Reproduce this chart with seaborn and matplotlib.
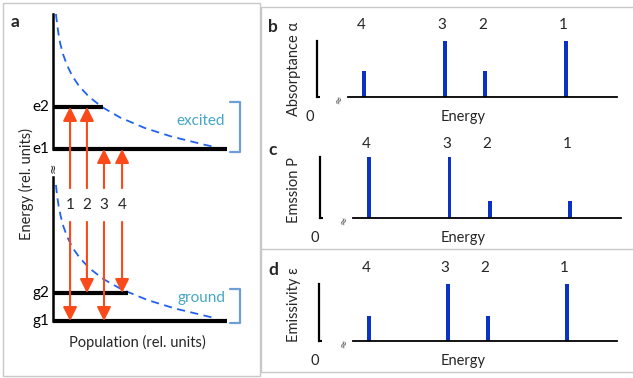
import numpy as np
import pandas as pd
import matplotlib
matplotlib.use("Agg")
import matplotlib.pyplot as plt
import matplotlib.transforms as mtransforms
import seaborn as sns

# ---------------- data ----------------
level_names = ["e2", "e1", "g2", "g1"]
level_energy = [11.0, 10.0, 0.667, 0.0]        # energy (rel. units)
level_population = [0.29, 1.0, 0.43, 1.0]     # population (rel. units)

transition_labels = ["1", "2", "3", "4"]
transition_upper = ["e2", "e2", "e1", "e1"]
transition_lower = ["g1", "g2", "g1", "g2"]

absorptance = [1.0, 0.46, 1.0, 0.46]
emission = [0.28, 0.28, 1.0, 1.0]
emissivity = [1.0, 0.44, 1.0, 0.44]

# Boltzmann-like population curves
excited_curve_energy = [13.21, 13.0, 12.75, 12.5, 12.25, 12.0, 11.75, 11.5, 11.25, 11.0,
                        10.75, 10.5, 10.3, 10.1, 10.05]
excited_curve_pop = [0.017, 0.023, 0.031, 0.042, 0.058, 0.080, 0.109, 0.149, 0.205, 0.281,
                     0.385, 0.527, 0.678, 0.872, 0.929]
ground_curve_energy = [3.24, 3.0, 2.75, 2.5, 2.25, 2.0, 1.75, 1.5, 1.25, 1.0,
                       0.75, 0.5, 0.3, 0.1, 0.07]
ground_curve_pop = [0.017, 0.023, 0.032, 0.044, 0.060, 0.082, 0.112, 0.154, 0.211, 0.289,
                    0.396, 0.543, 0.699, 0.899, 0.933]

# ---------------- style ----------------
W, H, DPI = 633, 378, 100
sns.set_theme(style="white")
plt.rcParams['font.family'] = ['Lato', 'DejaVu Sans']
FS = 10.5
ARROW_C = '#fa4a1a'
CURVE_C = '#2262ee'
BAR_C = '#0a32c4'
BRACKET_C = '#6c9fd6'
TEAL = '#45a6c2'
GRID_C = '#c8c8c8'

fig = plt.figure(figsize=(W / DPI, H / DPI), dpi=DPI)


def rect(x0, y0, x1, y1):
    return [x0 / W, 1 - y1 / H, (x1 - x0) / W, (y1 - y0) / H]


bg = fig.add_axes([0, 0, 1, 1], zorder=0)
bg.set_xlim(0, W)
bg.set_ylim(H, 0)
bg.axis('off')

# panel frames
bg.plot([3, 260, 260, 3, 3], [3, 3, 376, 376, 3], color=GRID_C, lw=1.0)
bg.plot([261, 261], [7, 372], color=GRID_C, lw=1.0)
for yy in (7, 249, 372):
    bg.plot([261, 633], [yy, yy], color=GRID_C, lw=1.0)

E = dict(zip(level_names, level_energy))
P = dict(zip(level_names, level_population))


def clean(ax):
    ax.set_facecolor('none')
    for s in ax.spines.values():
        s.set_visible(False)
    ax.set_xticks([])
    ax.set_yticks([])
    ax.set_xlabel('')
    ax.set_ylabel('')


# ---------------- panel a ----------------
ax_up = fig.add_axes(rect(53, 14, 227, 149), zorder=2)
ax_lo = fig.add_axes(rect(53, 177, 227, 321), zorder=2)
sns.lineplot(x=excited_curve_pop, y=excited_curve_energy, ax=ax_up, sort=False,
             color=CURVE_C, lw=1.3, linestyle=(0, (4.5, 3)))
sns.lineplot(x=ground_curve_pop, y=ground_curve_energy, ax=ax_lo, sort=False,
             color=CURVE_C, lw=1.3, linestyle=(0, (4.5, 3)))
ax_up.set_xlim(0, 1)
ax_up.set_ylim(10, 13.21)
ax_lo.set_xlim(0, 1)
ax_lo.set_ylim(0, 3.43)
for ax in (ax_up, ax_lo):
    clean(ax)
    ax.spines['left'].set_visible(True)
    ax.spines['left'].set_linewidth(1.8)
    ax.spines['left'].set_color('black')

for name in level_names:
    ax = ax_up if name.startswith('e') else ax_lo
    ax.hlines(E[name], 0, P[name], color='black', lw=3.0, capstyle='butt',
              clip_on=False, zorder=3)
    ax.annotate(name, xy=(0, E[name]), xycoords=('axes fraction', 'data'),
                xytext=(-2.5, 0), textcoords='offset points', ha='right', va='center',
                fontsize=FS + 0.5, color='black')

arrow_x = [0.098, 0.195, 0.293, 0.397]
arrow_props = dict(arrowstyle='-|>,head_width=0.35,head_length=0.7', color=ARROW_C,
                   lw=1.5, shrinkA=0, shrinkB=0)
for xa, lab, up, lo in zip(arrow_x, transition_labels, transition_upper, transition_lower):
    ax_up.annotate('', xy=(xa, E[up]), xytext=(xa, 9.07), arrowprops=arrow_props,
                   annotation_clip=False)
    ax_lo.annotate('', xy=(xa, E[lo]), xytext=(xa, 2.36), arrowprops=arrow_props,
                   annotation_clip=False)
    bg.text(53 + xa * 174, 205, lab, ha='center', va='center', fontsize=FS + 0.5)

bg.text(53, 168, '≈', rotation=90, ha='center', va='center', fontsize=9,
        family=['DejaVu Sans'])
bg.text(15, 22, 'a', fontweight='bold', fontsize=12.5, ha='center', va='center')
bg.text(26, 184, 'Energy (rel. units)', rotation=90, ha='center', va='center', fontsize=FS)
bg.text(137, 342, 'Population (rel. units)', ha='center', va='center', fontsize=FS)

for (y0, y1, txt, ty) in [(102, 152, 'excited', 121), (289, 323, 'ground', 298)]:
    bg.plot([230, 240, 240, 230], [y0, y0, y1, y1], color=BRACKET_C, lw=1.6)
    bg.text(201, ty, txt, color=TEAL, ha='center', va='center', fontsize=FS + 0.5)

# ---------------- spectra ----------------
spec_E = [E[u] - E[l] for u, l in zip(transition_upper, transition_lower)]

panels = [
    ('b', absorptance, 'Absorptance α', (348, 41, 617, 97), 31, 16, (273, 27), 69),
    ('c', emission, 'Emssion P', (353, 157, 621, 218), 33, 13, (273, 150), 190),
    ('d', emissivity, 'Emissivity ε', (353, 284, 617, 341), 34, 16, (273, 270), 305),
]
for letter, vals, ylab, box, off, lab_off, lpos, ylab_y in panels:
    x0, y0, x1, y1 = box
    ax = fig.add_axes(rect(*box), zorder=2)
    df = pd.DataFrame({'energy': spec_E, 'value': vals})
    sns.barplot(data=df, x='energy', y='value', native_scale=True, width=0.09,
                color=BAR_C, saturation=1, linewidth=0, errorbar=None, ax=ax)
    ax.set_xlim(9.2, 11.42)
    ax.set_ylim(0, 1.0)
    clean(ax)
    ax.spines['bottom'].set_visible(True)
    ax.spines['bottom'].set_linewidth(1.3)
    ax.spines['bottom'].set_color('black')
    ax.spines['left'].set_visible(True)
    ax.spines['left'].set_linewidth(1.6)
    ax.spines['left'].set_color('black')
    ax.spines['left'].set_position(('outward', off * 72 / DPI))
    ax.set_yticks([0])
    ax.tick_params(axis='y', direction='in', length=2.5, width=1.5, left=True,
                   labelleft=False, color='black')
    h = y1 - y0
    tr = mtransforms.offset_copy(ax.get_xaxis_transform(), fig=fig, x=-3, y=0, units='dots')
    for e, lab in zip(spec_E, transition_labels):
        ax.text(e, 1 + lab_off / h, lab, transform=tr, ha='center', va='center',
                fontsize=FS + 0.5)
    bg.text(lpos[0], lpos[1], letter, fontweight='bold', fontsize=12.5, ha='center',
            va='center')
    bg.text(294, ylab_y, ylab, rotation=90, ha='center', va='center', fontsize=FS)
    bg.text(x0 - 38, y1 + 20, '0', ha='center', va='center', fontsize=FS)
    bg.text(463, y1 + 20, 'Energy', ha='center', va='center', fontsize=FS)
    bg.text(x0 - 9, y1 + 2, '≈', rotation=70, ha='center', va='center', fontsize=7.5,
            color='#333333', family=['DejaVu Sans'])

fig.savefig('out.png', dpi=DPI)
